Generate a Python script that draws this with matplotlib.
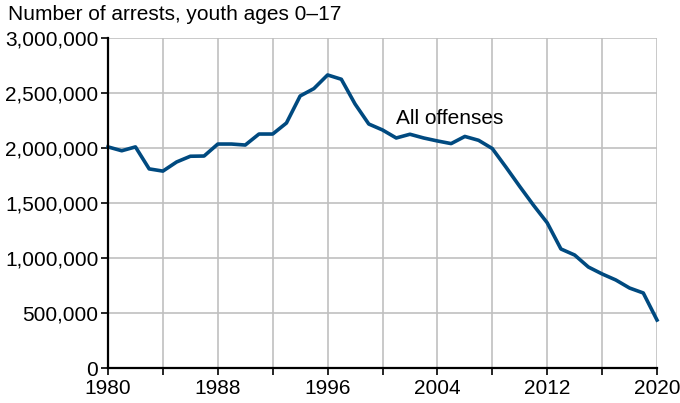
import numpy as np
import matplotlib.pyplot as plt
from matplotlib.ticker import FuncFormatter

plt.rcParams['font.family'] = ['Liberation Sans', 'DejaVu Sans']

years = np.arange(1980, 2021)
arrests = [2010000, 1975000, 2010000, 1810000, 1790000, 1873000, 1925000, 1927000,
           2036000, 2036000, 2027000, 2127000, 2127000, 2227000, 2473000, 2540000,
           2664000, 2625000, 2400000, 2218000, 2164000, 2091000, 2125000, 2091000,
           2064000, 2040000, 2105000, 2070000, 1995000, 1825000, 1650000, 1480000,
           1320000, 1082000, 1027000, 918000, 855000, 800000, 727000, 682000, 436000]
xlabels = [1980, 1988, 1996, 2004, 2012, 2020]
ylabels = [0, 500000, 1000000, 1500000, 2000000, 2500000, 3000000]

fig = plt.figure(figsize=(6.8, 4.03), dpi=100)
ax = fig.add_axes([108/680, 35/403, 549/680, 330/403])

ax.plot(years, arrests, color='#004a80', lw=2.6, solid_joinstyle='round', zorder=3, clip_on=False)

ax.set_xlim(1980, 2020)
ax.set_ylim(0, 3000000)
ax.set_xticks(np.arange(1980, 2021, 4))
ax.set_xticklabels([str(y) if y in xlabels else '' for y in range(1980, 2021, 4)])
ax.set_yticks(ylabels)
ax.yaxis.set_major_formatter(FuncFormatter(lambda v, p: f'{int(v):,}'))

ax.grid(True, color='#c0c0c0', lw=1.2, zorder=0)
ax.set_axisbelow(True)
for s in ['top', 'right']:
    ax.spines[s].set_visible(False)
for s in ['left', 'bottom']:
    ax.spines[s].set_linewidth(1.6)
    ax.spines[s].set_zorder(4)
ax.tick_params(axis='both', length=5, width=1.2, labelsize=15, colors='black', pad=2)
ax.tick_params(axis='x', pad=3)

ax.text(2001.0, 2270000, 'All offenses', fontsize=15, va='center', ha='left')
fig.text(8/680, 1 - 15/403, 'Number of arrests, youth ages 0\u201317', fontsize=15,
         va='center', ha='left')

fig.savefig('out.png', dpi=100)
